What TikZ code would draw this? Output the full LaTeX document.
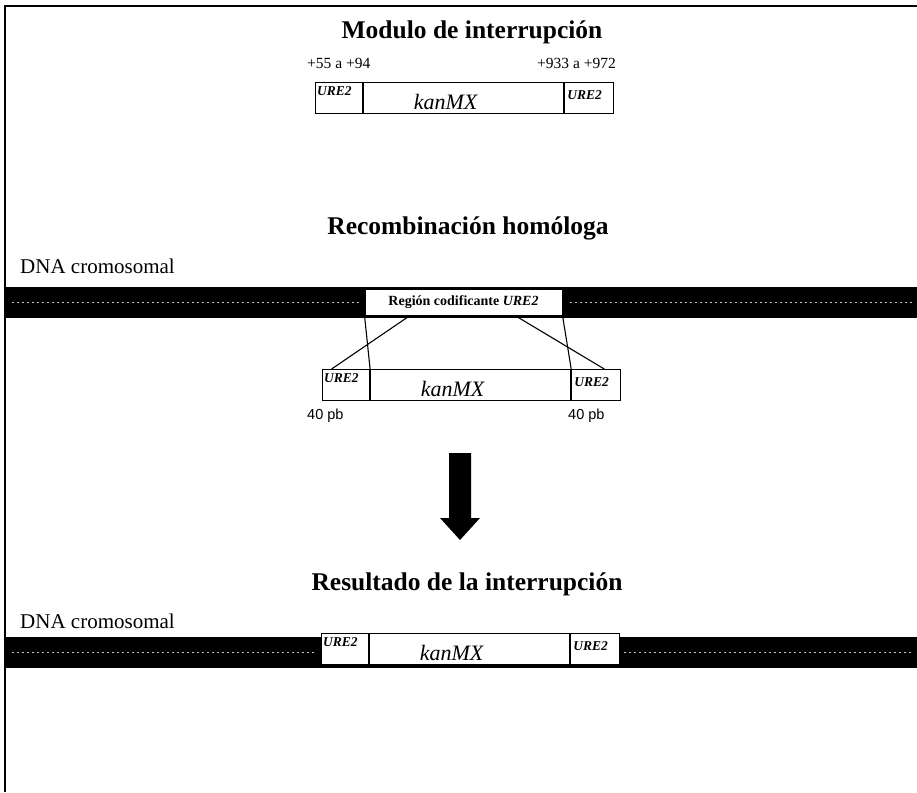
\documentclass[tikz,border=0pt]{standalone}
\usepackage{fontspec}
\setmainfont{Liberation Serif}
\newfontfamily\pbfont{Liberation Sans}
\usetikzlibrary{positioning}
\usetikzlibrary{calc}

\tikzset{
	segbox/.style={draw, line width=1.1pt, fill=white, minimum height=31pt, inner sep=0pt},
	urelabel/.style={font=\fontsize{13.5}{15}\selectfont\bfseries\itshape, inner sep=0pt},
	kanlabel/.style={font=\fontsize{22}{24}\selectfont\itshape, inner sep=0pt},
	heading/.style={font=\fontsize{25.5}{28}\selectfont\bfseries, inner sep=0pt, anchor=base},
	plaintext/.style={font=\fontsize{21}{24}\selectfont, inner sep=0pt, anchor=base west},
	numtext/.style={font=\fontsize{15.5}{18}\selectfont, inner sep=0pt},
	pbtext/.style={font=\pbfont\fontsize{14.5}{16}\selectfont, inner sep=0pt, anchor=base west},
	regbox/.style={draw, line width=1pt, fill=white, minimum width=197pt, minimum height=26pt,
		inner sep=0pt, font=\fontsize{14}{16}\selectfont\bfseries},
	crossline/.style={line width=1.1pt},
	chromobar/.style={fill=black},
	speckle/.style={gray!45, line width=1pt, dash pattern=on 1.5pt off 3.5pt}
}

\newcommand{\drawmodule}[3]{ % name, x, y (top left corner)
	\node[segbox, anchor=north west, minimum width=47pt] (#1-l) at (#2,#3) {};
	\node[segbox, right=0pt of #1-l, minimum width=200pt] (#1-m) {};
	\node[segbox, right=0pt of #1-m, minimum width=49pt] (#1-r) {};
	\node[urelabel, anchor=north west] (#1-lt) at ([shift={(2,4)}]#1-l.north west) {URE2};
	\node[urelabel, anchor=north west] (#1-rt) at ([shift={(3,8)}]#1-r.north west) {URE2};
	\node[kanlabel] (#1-k) at ([xshift=-18pt, yshift=-4pt]#1-m.center) {kanMX};
}

\begin{document}
\begin{tikzpicture}[x=1pt, y=-1pt]
\useasboundingbox (0,0) rectangle (917,792);

% frame
\draw[line width=1.5pt] (917,6) -- (5,6) -- (5,792);

% module
\node[heading] (title1) at (472,38) {Modulo de interrupción};
\node[numtext, anchor=base west] (pos1) at (307,68) {+55 a +94};
\node[numtext, anchor=base east] (pos2) at (616,68) {+933 a +972};
\drawmodule{mod1}{315}{82}

% recombination
\node[heading] (title2) at (468,234) {Recombinación homóloga};
\node[plaintext] (dna1) at (20,273) {DNA cromosomal};
\fill[chromobar] (5,287) rectangle (917,318);
\draw[speckle] (12,302) -- (360,302);
\draw[speckle] (570,302) -- (912,302);
\node[regbox] (reg) at (463.5,302) {Región codificante \textit{URE2}};
\drawmodule{mod2}{322}{369}
\draw[crossline] (reg.south west) -- (mod2-l.north east);
\draw[crossline] ($(reg.south west)!0.23!(reg.south east)$) -- ($(mod2-l.north west)!0.2!(mod2-l.north east)$);
\draw[crossline] (reg.south east) -- (mod2-r.north west);
\draw[crossline] ($(reg.south west)!0.76!(reg.south east)$) -- ($(mod2-r.north west)!0.66!(mod2-r.north east)$);
\node[pbtext] (pb1) at (307,419) {40 pb};
\node[pbtext] (pb2) at (568,419) {40 pb};

% arrow
\fill (449,453) -- (471,453) -- (471,518) -- (480,518) -- (460,540) -- (440,518) -- (449,518) -- cycle;

% result
\node[heading] (title3) at (467,590) {Resultado de la interrupción};
\node[plaintext] (dna2) at (20,628) {DNA cromosomal};
\fill[chromobar] (5,637) rectangle (917,668);
\draw[speckle] (12,652) -- (316,652);
\draw[speckle] (624,652) -- (912,652);
\drawmodule{mod3}{321}{633}

\end{tikzpicture}
\end{document}
